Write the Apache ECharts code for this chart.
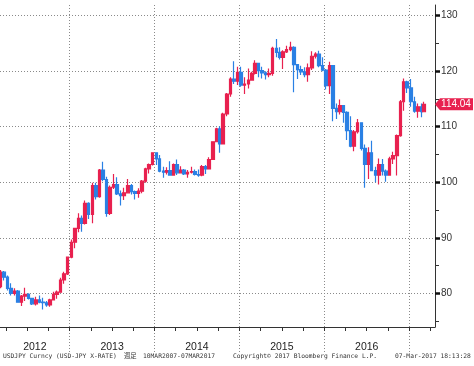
<!DOCTYPE html>
<html><head><meta charset="utf-8">
<script src="https://cdn.jsdelivr.net/npm/echarts@6/dist/echarts.min.js"></script>
<style>html,body{margin:0;padding:0;background:#fff}#c{width:474px;height:366px}</style>
</head><body><div id="c"></div>
<script>
// Semi-monthly periods (mid-point dates)
const dates = [
'2012-03-08','2012-03-23','2012-04-08','2012-04-23','2012-05-08','2012-05-23','2012-06-08','2012-06-23','2012-07-08','2012-07-23',
'2012-08-08','2012-08-23','2012-09-08','2012-09-23','2012-10-08','2012-10-23','2012-11-08','2012-11-23','2012-12-08','2012-12-23',
'2013-01-08','2013-01-23','2013-02-08','2013-02-23','2013-03-08','2013-03-23','2013-04-08','2013-04-23','2013-05-08','2013-05-23',
'2013-06-08','2013-06-23','2013-07-08','2013-07-23','2013-08-08','2013-08-23','2013-09-08','2013-09-23','2013-10-08','2013-10-23',
'2013-11-08','2013-11-23','2013-12-08','2013-12-23',
'2014-01-08','2014-01-23','2014-02-08','2014-02-23','2014-03-08','2014-03-23','2014-04-08','2014-04-23','2014-05-08','2014-05-23',
'2014-06-08','2014-06-23','2014-07-08','2014-07-23','2014-08-08','2014-08-23','2014-09-08','2014-09-23','2014-10-08','2014-10-23',
'2014-11-08','2014-11-23','2014-12-08','2014-12-23',
'2015-01-08','2015-01-23','2015-02-08','2015-02-23','2015-03-08','2015-03-23','2015-04-08','2015-04-23','2015-05-08','2015-05-23',
'2015-06-08','2015-06-23','2015-07-08','2015-07-23','2015-08-08','2015-08-23','2015-09-08','2015-09-23','2015-10-08','2015-10-23',
'2015-11-08','2015-11-23','2015-12-08','2015-12-23',
'2016-01-08','2016-01-23','2016-02-08','2016-02-23','2016-03-08','2016-03-23','2016-04-08','2016-04-23','2016-05-08','2016-05-23',
'2016-06-08','2016-06-23','2016-07-08','2016-07-23','2016-08-08','2016-08-23','2016-09-08','2016-09-23','2016-10-08','2016-10-23',
'2016-11-08','2016-11-23','2016-12-08','2016-12-23',
'2017-01-08','2017-01-23','2017-02-08','2017-02-23','2017-03-06'
];
const open = [
81.2,83.8,82.9,80.9,80.0,80.4,78.4,79.5,79.8,79.1,78.1,78.8,78.4,78.3,77.9,78.8,79.8,80.2,82.4,83.5,
86.5,89.2,91.7,93.5,92.6,96.2,94.2,99.4,97.4,102.2,100.5,94.4,99.1,99.6,97.9,97.6,98.1,99.4,98.3,98.0,98.4,100.2,102.4,103.2,
105.3,104.2,102.0,101.8,102.1,101.3,103.2,101.7,102.2,101.5,101.8,101.9,101.4,101.3,102.8,102.4,104.1,107.3,109.6,106.9,112.3,115.9,118.6,118.2,
119.8,117.5,117.7,118.4,119.6,121.4,120.1,119.7,119.4,119.6,124.1,123.4,122.5,123.5,123.9,124.3,121.2,120.3,119.9,119.4,120.6,122.7,123.1,121.0,
120.2,117.4,121.0,113.3,112.7,113.8,112.6,109.3,106.5,109.1,110.7,106.1,103.2,105.3,102.1,101.3,103.2,102.0,101.3,104.2,104.8,108.4,114.5,118.1,
117.0,114.5,112.8,113.6,112.7
];
const close = [
83.8,82.9,80.9,80.0,80.4,78.4,79.5,79.8,79.1,78.1,78.8,78.4,78.3,77.9,78.8,79.8,80.2,82.4,83.5,86.5,
89.2,91.7,93.5,92.6,96.2,94.2,99.4,97.4,102.2,100.5,94.4,99.1,99.6,97.9,97.6,98.1,99.4,98.3,98.0,98.4,100.2,102.4,103.2,105.3,
104.2,102.0,101.8,102.1,101.3,103.2,101.7,102.2,101.5,101.8,101.9,101.4,101.3,102.8,102.4,104.1,107.3,109.6,106.9,112.3,115.9,118.6,118.2,119.8,
117.5,117.7,118.4,119.6,121.4,120.1,119.7,119.4,119.6,124.1,123.4,122.5,123.5,123.9,124.3,121.2,120.3,119.9,119.4,120.6,122.7,123.1,121.0,120.2,
117.4,121.0,113.3,112.7,113.8,112.6,109.3,106.5,109.1,110.7,106.1,103.2,105.3,102.1,101.3,103.2,102.0,101.3,104.2,104.8,108.4,114.5,118.1,117.0,
114.5,112.8,113.6,112.7,114.04
];
const low = [
80.9,82.3,80.5,79.6,79.6,78.3,77.7,78.6,78.9,77.9,77.8,78.2,77.1,77.6,77.6,78.7,79.0,80.1,81.7,83.3,
86.3,88.1,91.0,91.1,92.4,93.4,92.6,96.9,97.2,100.2,93.8,94.1,98.8,97.7,95.8,96.8,98.0,97.8,96.9,97.2,98.0,99.9,101.6,103.0,
103.1,101.8,100.8,101.4,101.2,101.2,101.3,101.6,101.3,100.8,101.6,101.2,101.0,101.1,101.5,102.3,104.0,107.2,105.3,106.8,111.9,115.4,117.7,117.5,
117.2,115.9,116.9,118.3,119.4,118.9,118.7,118.5,118.9,119.2,122.5,122.1,120.4,123.3,123.6,116.2,118.6,119.3,118.9,118.1,120.2,122.3,120.7,120.0,
116.7,115.9,111.0,111.4,112.2,110.7,107.6,106.3,105.6,108.8,105.7,99.0,100.6,102.0,100.0,99.6,101.2,100.1,101.2,103.3,101.2,108.2,112.9,116.1,
113.6,112.5,111.6,111.7,112.6
];
const high = [
84.2,84.0,83.2,81.8,80.9,80.6,79.7,81.0,80.0,79.2,79.4,79.6,79.2,78.6,79.0,80.3,80.5,82.8,83.9,86.6,
89.7,91.8,94.4,94.0,96.7,96.4,99.9,99.9,102.4,103.7,101.0,99.4,101.5,100.9,98.5,99.0,100.6,99.7,98.5,98.9,100.4,102.6,103.4,105.4,
105.4,104.9,102.8,102.7,103.8,103.4,104.1,102.9,102.4,102.2,102.8,102.3,102.3,103.1,103.1,104.5,107.4,109.8,110.1,112.5,116.1,118.9,121.8,120.8,
120.8,118.9,120.5,119.9,122.0,121.5,120.8,120.0,120.5,124.4,125.8,124.3,123.8,124.6,125.3,124.5,121.3,121.0,120.7,121.4,123.6,123.4,123.7,122.5,
120.4,121.7,121.1,114.2,114.9,113.9,112.8,111.9,109.4,111.4,110.8,106.8,106.3,107.5,102.8,104.3,104.2,102.3,104.6,105.5,108.6,114.8,118.7,118.3,
118.6,115.4,114.2,114.2,114.5
];
const yearLabels = ['2012','2013','2014','2015','2016'];
const yearStarts = [2013, 2014, 2015, 2016, 2017];
const quarterTicks = [2012.25,2012.5,2012.75,2013,2013.25,2013.5,2013.75,2014,2014.25,2014.5,2014.75,2015,2015.25,2015.5,2015.75,2016,2016.25,2016.5,2016.75,2017,2017.25];
const priceTicks = [80, 90, 100, 110, 120, 130];
const priceMinorTicks = [75, 85, 95, 105, 115, 125];
const lastPrice = 114.04;
const footer1 = 'USDJPY Curncy (USD-JPY X-RATE)';
const footer2 = '週足';
const footer3 = '10MAR2007-07MAR2017';
const footer4 = 'Copyright© 2017 Bloomberg Finance L.P.';
const footer5 = '07-Mar-2017 18:13:28';

const X_MIN = 2012.18, X_MAX = 2017.304, Y_MIN = 73.93, Y_MAX = 131.93;
function toYear(s) {
  const d = Date.parse(s + 'T12:00:00Z');
  const y = +s.slice(0, 4);
  const a = Date.UTC(y, 0, 1), b = Date.UTC(y + 1, 0, 1);
  return y + (d - a) / (b - a);
}
const candles = dates.map((d, i) => [toYear(d), open[i], close[i], low[i], high[i]]);
const labelPos = [(X_MIN + yearStarts[0]) / 2].concat(yearStarts.slice(0, 4).map(v => v + 0.5));

const dotted = { color: '#8a8a8a', width: 1, type: [1, 2] };
const chart = echarts.init(document.getElementById('c'), null, { renderer: 'canvas' });
const foot = (text, x) => ({
  type: 'text', x: x, y: 356, silent: true,
  style: { text: text, x: 0, y: 0, fill: '#333', font: '6.3px "DejaVu Sans Mono", "Noto Sans CJK JP", monospace', verticalAlign: 'middle', textVerticalAlign: 'middle' }
});
chart.setOption({
  animation: false,
  backgroundColor: '#fff',
  grid: { left: 0, right: 39, top: 5, bottom: 39, containLabel: false, outerBoundsMode: 'none' },
  xAxis: [
    { type: 'value', min: X_MIN, max: X_MAX, position: 'bottom',
      axisLine: { show: true, onZero: false, lineStyle: { color: '#333', width: 1 } },
      axisTick: { show: true, customValues: yearStarts, length: 25, lineStyle: dotted },
      splitLine: { show: true, lineStyle: dotted },
      axisLabel: { show: true, customValues: labelPos, margin: 15, color: '#222', fontSize: 10.5,
        fontFamily: '"Liberation Sans", Arial, sans-serif',
        formatter: v => yearLabels[Math.floor(v) - 2012] } },
    { type: 'value', min: X_MIN, max: X_MAX, position: 'bottom', offset: 0,
      axisLine: { show: false, onZero: false },
      axisTick: { show: true, customValues: quarterTicks, length: 4, lineStyle: { color: '#333', width: 1 } },
      splitLine: { show: false }, axisLabel: { show: false } }
  ],
  yAxis: [
    { type: 'value', min: Y_MIN, max: Y_MAX, position: 'right',
      axisLine: { show: true, onZero: false, lineStyle: { color: '#333', width: 1 } },
      axisTick: { show: true, customValues: priceTicks, length: 5, lineStyle: { color: '#111', width: 2.5 } },
      axisLabel: { show: true, customValues: priceTicks, margin: 6, color: '#333', fontSize: 10,
        fontFamily: '"Liberation Sans", Arial, sans-serif' },
      splitLine: { show: true, lineStyle: dotted } },
    { type: 'value', min: Y_MIN, max: Y_MAX, position: 'right', offset: 0,
      axisLine: { show: false, onZero: false },
      axisTick: { show: true, customValues: priceMinorTicks, length: 4, lineStyle: { color: '#333', width: 1 } },
      axisLabel: { show: false }, splitLine: { show: false } }
  ],
  series: [{
    type: 'candlestick', xAxisIndex: 0, yAxisIndex: 0,
    barWidth: 3,
    data: candles,
    itemStyle: { color: '#e8214f', color0: '#2a80e4', borderColor: '#e8214f', borderColor0: '#2a80e4', borderWidth: 1.2 },
    markPoint: {
      symbol: 'path://M0,6L5,0L38,0L38,12L5,12Z', symbolSize: [38, 12], symbolOffset: [19, 0], symbolKeepAspect: false,
      itemStyle: { color: '#e8214f' },
      label: { show: true, color: '#fff', fontSize: 10, fontFamily: '"Liberation Sans", Arial, sans-serif', offset: [2, 0], formatter: () => lastPrice.toFixed(2) },
      data: [{ coord: [X_MAX, lastPrice] }]
    }
  }],
  graphic: [
    foot(footer1, 3), foot(footer2, 124), foot(footer3, 143), foot(footer4, 233), foot(footer5, 395)
  ]
});
</script></body></html>
